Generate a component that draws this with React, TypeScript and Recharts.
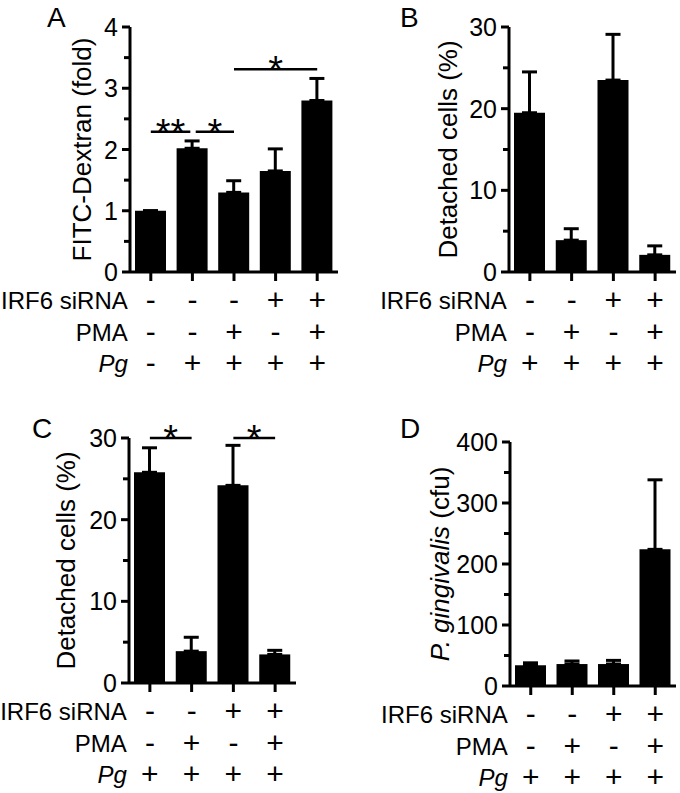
import React from 'react';
import { BarChart, Bar, XAxis, YAxis, ErrorBar, ReferenceLine } from 'recharts';

const FONT = '"Liberation Sans", Arial, Helvetica, sans-serif';

const rowLabels = ['IRF6 siRNA', 'PMA', 'Pg'];

// panel A
const irf6A = ['-', '-', '-', '+', '+'];
const pmaA = ['-', '-', '+', '-', '+'];
const pgA = ['-', '+', '+', '+', '+'];
const foldA = [1.0, 2.02, 1.3, 1.65, 2.8];
const foldErrA = [0, 0.12, 0.19, 0.36, 0.36];
const ticksA = [0, 0.5, 1, 1.5, 2, 2.5, 3, 3.5, 4];

// panels B, C, D share the same treatments
const irf6 = ['-', '-', '+', '+'];
const pma = ['-', '+', '-', '+'];
const pg = ['+', '+', '+', '+'];

const detachedB = [19.5, 3.9, 23.5, 2.1];
const detachedErrB = [5.0, 1.4, 5.6, 1.1];
const detachedC = [25.8, 3.9, 24.2, 3.5];
const detachedErrC = [3.0, 1.7, 4.9, 0.5];
const cfuD = [34, 36, 36, 224];
const cfuErrD = [4, 5, 6, 114];
const ticks30 = [0, 5, 10, 15, 20, 25, 30];
const ticks400 = [0, 50, 100, 150, 200, 250, 300, 350, 400];

// significance bars: [from, to, y, label]
const sigA: [number, number, number, string][] = [
  [0, 0.95, 2.29, '**'],
  [1.08, 2, 2.29, '*'],
  [2, 4, 3.31, '*'],
];
const sigC: [number, number, number, string][] = [
  [0, 1, 30, '*'],
  [2, 3, 30, '*'],
];

const build = (vals: number[], errs: number[], a: string[], b: string[], c: string[]) =>
  vals.map((v, i) => ({ i, v, e: [0, errs[i]], signs: [a[i], b[i], c[i]] }));

const dataA = build(foldA, foldErrA, irf6A, pmaA, pgA);
const dataB = build(detachedB, detachedErrB, irf6, pma, pg);
const dataC = build(detachedC, detachedErrC, irf6, pma, pg);
const dataD = build(cfuD, cfuErrD, irf6, pma, pg);

const rowDy = [37, 69, 100];

const SignTick = (props: any) => {
  const { x, y, payload, data } = props;
  const d = data[payload.value];
  if (!d) return null;
  return (
    <g fontFamily={FONT} fill="#000">
      <line x1={x} x2={x} y1={y} y2={y + 9} stroke="#000" strokeWidth={3} />
      {d.signs.map((s: string, r: number) => (
        <text key={r} x={x} y={y + rowDy[r] + 1} textAnchor="middle" fontSize={30} fill="#000">
          {s}
        </text>
      ))}
      {payload.value === 0 &&
        rowLabels.map((l, r) => (
          <text
            key={l}
            x={x - 23}
            y={y + rowDy[r]}
            textAnchor="end"
            fontSize={24}
            fontStyle={l === 'Pg' ? 'italic' : 'normal'}
            fill="#000"
          >
            {l}
          </text>
        ))}
    </g>
  );
};

const YTick = (props: any) => {
  const { x, y, payload, major } = props;
  const isMajor = Math.abs(payload.value % major) < 1e-9;
  return (
    <g>
      <line x1={x - (isMajor ? 8 : 6)} x2={x} y1={y} y2={y} stroke="#000" strokeWidth={3} />
      {isMajor && (
        <text x={x - 12} y={y} dy="0.36em" textAnchor="end" fontSize={25} fontFamily={FONT} fill="#000">
          {payload.value}
        </text>
      )}
    </g>
  );
};

const YTitle = (props: any) => {
  const { viewBox, off, text } = props;
  if (!viewBox) return null;
  const cx = viewBox.x + viewBox.width - off;
  const cy = viewBox.y + viewBox.height / 2;
  return (
    <text
      transform={`translate(${cx},${cy}) rotate(-90)`}
      textAnchor="middle"
      dy="0.36em"
      fontSize={26}
      fontFamily={FONT}
      fill="#000"
    >
      {text}
    </text>
  );
};

const Star = (props: any) => {
  const { viewBox, text } = props;
  if (!viewBox) return null;
  const cx = viewBox.x + (viewBox.width || 0) / 2;
  return (
    <text x={cx} y={viewBox.y + 14} textAnchor="middle" fontSize={38} fontFamily={FONT} fill="#000">
      {text}
    </text>
  );
};

interface PanelProps {
  x: number;
  y: number;
  w: number;
  h: number;
  margin: { top: number; right: number; left: number; bottom: number };
  xh: number;
  data: any[];
  yMax: number;
  yTicks: number[];
  major: number;
  title: React.ReactNode;
  titleOff: number;
  sig?: [number, number, number, string][];
}

function Panel({ x, y, w, h, margin, xh, data, yMax, yTicks, major, title, titleOff, sig = [] }: PanelProps) {
  const idx = data.map((d) => d.i);
  return (
    <div style={{ position: 'absolute', left: x, top: y, width: w, height: h }}>
      <BarChart width={w} height={h} data={data} margin={margin}>
        <XAxis
          type="number"
          dataKey="i"
          domain={[-0.5, data.length - 0.5]}
          ticks={idx}
          interval={0}
          height={xh}
          axisLine={{ stroke: '#000', strokeWidth: 3 }}
          tickLine={false}
          tickSize={0}
          tickMargin={0}
          tick={(p: any) => <SignTick {...p} data={data} />}
        />
        <YAxis
          type="number"
          domain={[0, yMax]}
          ticks={yTicks}
          interval={0}
          width={70}
          axisLine={{ stroke: '#000', strokeWidth: 3 }}
          tickLine={false}
          tickSize={0}
          tickMargin={0}
          tick={(p: any) => <YTick {...p} major={major} />}
          label={<YTitle off={titleOff} text={title} />}
        />
        <Bar dataKey="v" fill="#000" barSize={31} isAnimationActive={false}>
          <ErrorBar dataKey="e" direction="y" width={7.5} stroke="#000" strokeWidth={3} isAnimationActive={false} />
        </Bar>
        {sig.map((s, k) => (
          <ReferenceLine
            key={k}
            segment={[
              { x: s[0], y: s[2] },
              { x: s[1], y: s[2] },
            ]}
            stroke="#000"
            strokeWidth={2.5}
            ifOverflow="visible"
            label={<Star text={s[3]} />}
          />
        ))}
      </BarChart>
    </div>
  );
}

export default function App() {
  return (
    <div style={{ position: 'absolute', left: 0, top: 0, width: 680, height: 793, background: '#fff', fontFamily: FONT }}>
      <Panel
        x={0}
        y={0}
        w={340}
        h={400}
        margin={{ top: 27, right: 2, left: 60, bottom: 18 }}
        xh={110}
        data={dataA}
        yMax={4}
        yTicks={ticksA}
        major={1}
        title="FITC-Dextran (fold)"
        titleOff={48}
        sig={sigA}
      />
      <Panel
        x={340}
        y={0}
        w={340}
        h={400}
        margin={{ top: 27, right: 4, left: 99, bottom: 18 }}
        xh={110}
        data={dataB}
        yMax={30}
        yTicks={ticks30}
        major={10}
        title="Detached cells (%)"
        titleOff={61}
      />
      <Panel
        x={0}
        y={400}
        w={340}
        h={393}
        margin={{ top: 38, right: 44, left: 59, bottom: 0 }}
        xh={110}
        data={dataC}
        yMax={30}
        yTicks={ticks30}
        major={10}
        title="Detached cells (%)"
        titleOff={63}
        sig={sigC}
      />
      <Panel
        x={340}
        y={400}
        w={340}
        h={393}
        margin={{ top: 42, right: 4, left: 100, bottom: 3 }}
        xh={104}
        data={dataD}
        yMax={400}
        yTicks={ticks400}
        major={100}
        title={
          <>
            <tspan fontStyle="italic">P. gingivalis</tspan>
            <tspan> (cfu)</tspan>
          </>
        }
        titleOff={70}
      />
      <svg width={680} height={793} style={{ position: 'absolute', left: 0, top: 0, pointerEvents: 'none' }}>
        <g fontFamily={FONT} fontSize={28} fill="#000">
          <text x={47} y={27}>A</text>
          <text x={400} y={27}>B</text>
          <text x={32} y={438}>C</text>
          <text x={400} y={438}>D</text>
        </g>
      </svg>
    </div>
  );
}
